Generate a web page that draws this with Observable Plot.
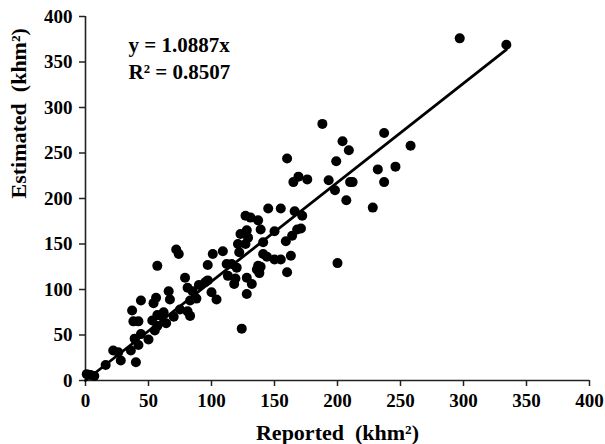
<!DOCTYPE html>
<html>
<head>
<meta charset="utf-8">
<script src="https://cdn.jsdelivr.net/npm/d3@7"></script>
<script src="https://cdn.jsdelivr.net/npm/@observablehq/plot@0.6"></script>
<style>
  html, body { margin: 0; padding: 0; background: #fff; }
</style>
</head>
<body>
<div id="chart"></div>
<script>
// Reported vs estimated area (khm²)
const reported = [
  1, 4, 7, 16, 22, 26, 28, 36, 37, 38,
  42, 39, 42, 40, 44, 50, 44, 54, 56, 57,
  53, 55, 57, 57, 60, 62, 64, 66, 67, 70,
  75, 72, 74, 79, 81, 81, 83, 83, 85, 88,
  90, 95, 97, 97, 100, 101, 104, 109, 112, 113,
  118, 119, 120, 121, 123, 124, 128, 128, 129, 132,
  136, 137, 138, 139, 141, 141, 150, 150, 155, 159,
  160, 163, 164, 168, 127, 128, 127, 131, 137, 139,
  144, 145, 155, 166, 160, 165, 169, 176, 172, 171,
  188, 193, 198, 199, 204, 209, 207, 210, 212, 228,
  232, 237, 237, 246, 258, 200, 297, 334, 122, 116
];
const estimated = [
  7, 6, 5, 17, 33, 31, 22, 33, 77, 65,
  65, 46, 39, 20, 51, 45, 88, 85, 91, 126,
  66, 55, 60, 72, 71, 75, 63, 98, 89, 70,
  78, 144, 139, 113, 102, 76, 71, 88, 98, 90,
  105, 108, 110, 127, 97, 139, 89, 142, 128, 115,
  106, 112, 124, 150, 161, 57, 95, 113, 157, 106,
  122, 126, 118, 125, 139, 152, 164, 133, 133, 153,
  119, 137, 159, 166, 150, 165, 181, 179, 176, 166,
  136, 189, 189, 186, 244, 218, 224, 221, 181, 167,
  282, 220, 209, 241, 263, 253, 198, 218, 218, 190,
  232, 272, 218, 235, 258, 129, 376, 369, 141, 128
];
const slope = 1.0887;
const rSquared = 0.8507;
const tickValues = [0, 50, 100, 150, 200, 250, 300, 350, 400];
const xTitle = "Reported\u00a0 (khm²)";
const yTitle = "Estimated\u00a0 (khm²)";

const points = reported.map((x, i) => ({x, y: estimated[i]}));
const xMax = d3.max(reported);
const fit = [0, xMax].map(x => ({x, y: slope * x}));
const equation = `y = ${slope}x\nR² = ${rSquared}`;

const serif = "'Liberation Serif', 'Times New Roman', serif";

const chart = Plot.plot({
  width: 605,
  height: 444,
  marginLeft: 85,
  marginRight: 16,
  marginTop: 16,
  marginBottom: 64,
  x: {domain: [0, 400]},
  y: {domain: [0, 400]},
  style: {fontFamily: serif, fontWeight: "bold", fontSize: "19px", color: "#000", background: "#fff"},
  marks: [
    Plot.axisX({ticks: tickValues, tickSize: 6, tickPadding: 7, fontSize: 19, fontWeight: "bold", stroke: "#222", strokeWidth: 1.5, label: null}),
    Plot.axisY({ticks: tickValues, tickSize: 6, tickPadding: 7, fontSize: 19, fontWeight: "bold", stroke: "#222", strokeWidth: 1.5, label: null}),
    Plot.ruleY([0], {stroke: "#222", strokeWidth: 1.6}),
    Plot.ruleX([0], {stroke: "#222", strokeWidth: 1.6}),
    Plot.dot(points, {x: "x", y: "y", r: 5, fill: "#000", stroke: "none"}),
    Plot.line(fit, {x: "x", y: "y", stroke: "#000", strokeWidth: 2.8}),
    Plot.text([equation], {frameAnchor: "top-left", dx: 43, dy: 16, lineAnchor: "top", lineHeight: 1.29, fontSize: 21, fontWeight: "bold", fill: "#000"}),
    Plot.text([xTitle], {frameAnchor: "bottom", dy: 52, lineAnchor: "middle", fontSize: 22, fontWeight: "bold", fill: "#000"}),
    Plot.text([yTitle], {frameAnchor: "left", dx: -67, rotate: -90, lineAnchor: "middle", fontSize: 22, fontWeight: "bold", fill: "#000"})
  ]
});
document.getElementById("chart").appendChild(chart);
</script>
</body>
</html>
